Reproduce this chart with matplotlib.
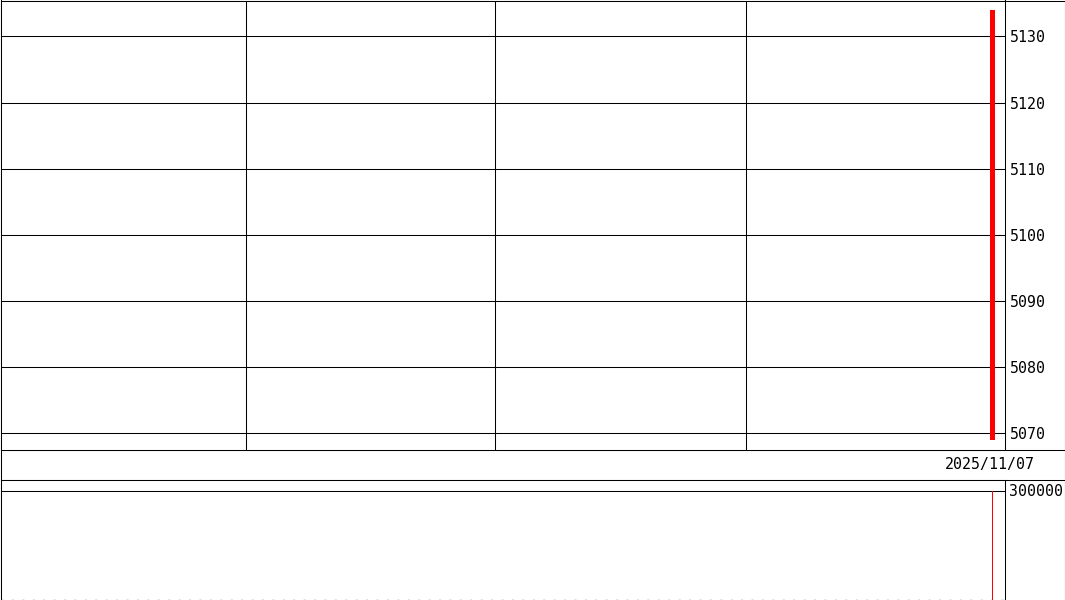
import matplotlib
matplotlib.use('Agg')
import matplotlib.pyplot as plt

# ---- data ----
dates = ['2025/11/07']
candle_index = [0]
opens = [5069]
closes = [5134]
volumes = [300000]
price_ticks = [5070, 5080, 5090, 5100, 5110, 5120, 5130]
volume_ticks = [300000]

W, H = 1065, 600
fig = plt.figure(figsize=(W / 100, H / 100), dpi=100)
FONT = dict(family='DejaVu Sans Mono', size=10.7, color='black')
LW = 0.75


def box(x0, y0, x1, y1):
    return [x0 / W, 1 - y1 / H, (x1 - x0) / W, (y1 - y0) / H]


# background frame (pixel coordinates)
bg = fig.add_axes([0, 0, 1, 1])
bg.set_xlim(0, W)
bg.set_ylim(H, 0)
bg.axis('off')
for (x0, y0, x1, y1) in [(0.5, 0.5, 1064.5, 0.5),
                         (0.5, 0.5, 0.5, 600), (1064.5, 0.5, 1064.5, 600),
                         (0.5, 449.5, 1064.5, 449.5), (0.5, 479.5, 1064.5, 479.5)]:
    bg.plot([x0, x1], [y0, y1], color='black', lw=LW, solid_capstyle='butt')

# x scale: slots of 6 px, the single candle sits near the right edge
slot = 6.0
xmin, xmax = -992 / slot, 12 / slot

# ---- price panel ----
ax = fig.add_axes(box(0.5, 0.5, 1004.5, 449.5))
ax.set_xlim(xmin, xmax)
ax.set_ylim(5067.58, 5135.44)
ax.set_yticks(price_ticks)
ax.set_yticklabels([str(t) for t in price_ticks], **FONT)
ax.yaxis.tick_right()
ax.tick_params(axis='y', length=0, pad=3.6)
ax.set_xticks([])
ax.grid(axis='y', color='black', lw=LW)
for f in [245 / 1004, 495 / 1004, 745 / 1004]:
    ax.axvline(xmin + f * (xmax - xmin), color='black', lw=LW)
for s in ax.spines.values():
    s.set_linewidth(LW)
ax.set_axisbelow(True)
bottoms = [min(o, c) for o, c in zip(opens, closes)]
heights = [abs(c - o) for o, c in zip(opens, closes)]
ax.bar(candle_index, heights, bottom=bottoms, width=5 / slot, color='#ff0000', zorder=3)

# ---- date strip ----
axd = fig.add_axes(box(0.5, 449.5, 1004.5, 479.5))
axd.set_xlim(xmin, xmax)
axd.set_ylim(0, 1)
axd.axis('off')
for i, d in zip(candle_index, dates):
    axd.text(i - 0.5, 0.5, d, ha='center', va='center', **FONT)

# ---- volume panel ----
axv = fig.add_axes(box(0.5, 479.5, 1004.5, 600))
per_px = 300000 / 109
axv.set_xlim(xmin, xmax)
axv.set_ylim(-0.5 * per_px, 300000 + 11 * per_px)
axv.set_yticks(volume_ticks)
axv.set_yticklabels([str(t) for t in volume_ticks], **FONT)
axv.yaxis.tick_right()
axv.tick_params(axis='y', length=0, pad=3.6)
axv.set_xticks([])
axv.grid(axis='y', color='black', lw=LW)
for s in axv.spines.values():
    s.set_linewidth(LW)
axv.spines['bottom'].set_visible(False)
axv.set_axisbelow(True)
axv.bar(candle_index, volumes, width=1 / slot, color='#ff0000', zorder=3,
        linewidth=0)
axv.axhline(0, color='#2e8b2e', lw=1.0, ls=(0, (1.5, 6)), zorder=4)

fig.savefig('out.png', dpi=100)
